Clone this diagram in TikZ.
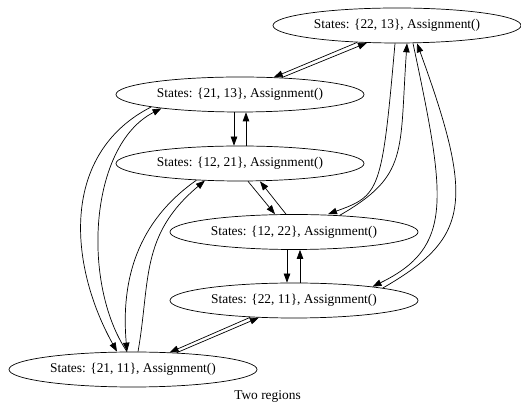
\documentclass[tikz,border=0pt]{standalone}
\usepackage{fontspec}
\setmainfont{Liberation Serif}
\usetikzlibrary{arrows.meta}
\usetikzlibrary{shapes.geometric}

\begin{document}
\begin{tikzpicture}[x=1pt,y=1pt,line width=0.7pt,
    >={Triangle[length=9pt,width=6.5pt]},
    state/.style={ellipse,draw,minimum width=248pt,minimum height=35pt,
      inner sep=0pt,font=\fontsize{13.4}{16}\selectfont}]
  \useasboundingbox (0,0) rectangle (521,403);
  \node[state] (s2213) at (397,377.5) {States: \{22, 13\}, Assignment()};
  \node[state] (s2113) at (240,308.5) {States: \{21, 13\}, Assignment()};
  \node[state] (s1221) at (240,239.5) {States: \{12, 21\}, Assignment()};
  \node[state] (s1222) at (294,171) {States: \{12, 22\}, Assignment()};
  \node[state] (s2211) at (294,102.5) {States: \{22, 11\}, Assignment()};
  \node[state] (s2111) at (133,33.5) {States: \{21, 11\}, Assignment()};
  \node[font=\fontsize{13.4}{16}\selectfont] (title) at (267.5,6) {Two regions};
  \path[->]
    (s2213.203) edge (s2113.27)
    (s2113.22) edge (s2213.210)
    ([xshift=-6pt]s2113.south) edge ([xshift=-6pt]s1221.north)
    ([xshift=6pt]s1221.north) edge ([xshift=6pt]s2113.south)
    ([xshift=8pt]s1221.south) edge ([xshift=-19pt]s1222.north)
    ([xshift=-8pt]s1222.north) edge ([xshift=20pt]s1221.south)
    ([xshift=-7pt]s1222.south) edge ([xshift=-7pt]s2211.north)
    ([xshift=6pt]s2211.north) edge ([xshift=6pt]s1222.south)
    (s2111.21) edge (s2211.206)
    (s2211.201) edge (s2111.25);
  % long bends on the right
  \path[->]
    ([xshift=-2pt]s2213.south) edge[out=265,in=20,out distance=150pt,in distance=55pt] ([xshift=34pt]s1222.north)
    (s1222.20) edge[out=30,in=266,out distance=80pt,in distance=110pt] ([xshift=10pt]s2213.south)
    ([xshift=16pt]s2213.south) edge[out=282,in=26,out distance=160pt,in distance=90pt] (s2211.10)
    (s2211.8) edge[out=30,in=290,out distance=100pt,in distance=170pt] ([xshift=20pt]s2213.south);
  % long bends on the left
  \path[->]
    (s2113.188) edge[out=207,in=119,looseness=1.05] ([xshift=-16pt]s2111.north)
    ([xshift=-6pt]s2111.north) edge[out=124,in=207,looseness=0.85] (s2113.190)
    (s1221.201) edge[out=215,in=95] ([xshift=-6pt]s2111.north)
    ([xshift=5pt]s2111.north) edge[out=80,in=220,in distance=85pt] (s1221.206);
\end{tikzpicture}
\end{document}
